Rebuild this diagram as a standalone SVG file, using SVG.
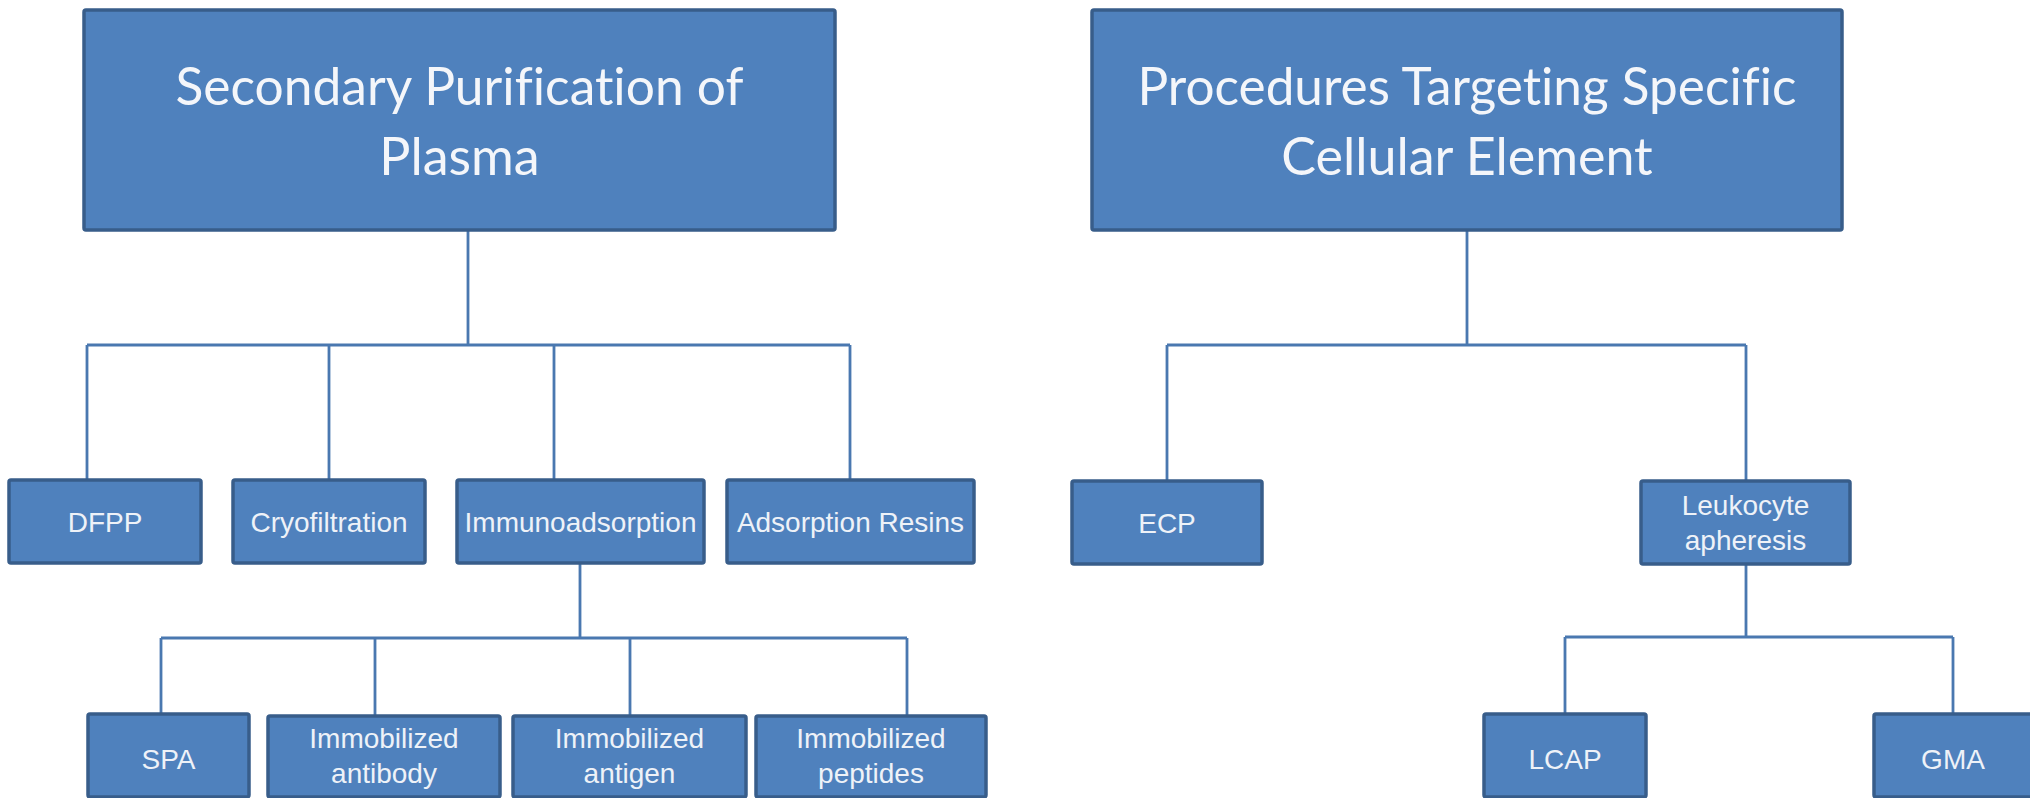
<svg xmlns="http://www.w3.org/2000/svg" width="2030" height="798" viewBox="0 0 2030 798">
<style>
.box{fill:#4f81bd;stroke:#385d8a;stroke-width:3.5}
.title{font-family:Lato,"Open Sans",sans-serif;font-size:52px;fill:#f4f6fa;text-anchor:middle;font-variant-ligatures:none}
.lbl{font-family:"Liberation Sans",Arial,sans-serif;font-size:28px;fill:#eef2f8;text-anchor:middle}
.conn{stroke:#4a78b0;stroke-width:2.8;fill:none}
</style>
<rect width="2030" height="798" fill="#ffffff"/>
<g id="connectors" class="conn">
<path d="M468 230V345M87 345H850M87 345V480M329 345V480M554 345V480M850 345V480"/>
<path d="M580 563V638M161 638H907M161 638V714M375 638V716M630 638V716M907 638V716"/>
<path d="M1467 230V345M1167 345H1746M1167 345V481M1746 345V481"/>
<path d="M1746 564V637M1565 637H1953M1565 637V714M1953 637V714"/>
</g>
<g id="n-secondary">
<rect class="box" x="84" y="10" width="751" height="220" rx="2"/>
<text class="title" x="459.5" y="105" textLength="568" lengthAdjust="spacingAndGlyphs">Secondary Purification of</text>
<text class="title" x="459.5" y="175">Plasma</text>
</g>
<g id="n-procedures">
<rect class="box" x="1092" y="10" width="750" height="220" rx="2"/>
<text class="title" x="1467" y="105" textLength="659" lengthAdjust="spacingAndGlyphs">Procedures Targeting Specific</text>
<text class="title" x="1467" y="175">Cellular  Element</text>
</g>
<g id="n-dfpp">
<rect class="box" x="9" y="480" width="192" height="83" rx="2"/>
<text class="lbl" x="105" y="532">DFPP</text>
</g>
<g id="n-cryo">
<rect class="box" x="233" y="480" width="192" height="83" rx="2"/>
<text class="lbl" x="329" y="532">Cryofiltration</text>
</g>
<g id="n-immuno">
<rect class="box" x="457" y="480" width="247" height="83" rx="2"/>
<text class="lbl" x="580.5" y="532">Immunoadsorption</text>
</g>
<g id="n-resins">
<rect class="box" x="727" y="480" width="247" height="83" rx="2"/>
<text class="lbl" x="850.5" y="532">Adsorption Resins</text>
</g>
<g id="n-spa">
<rect class="box" x="88" y="714" width="161" height="83" rx="2"/>
<text class="lbl" x="168.5" y="769">SPA</text>
</g>
<g id="n-antibody">
<rect class="box" x="268" y="716" width="232" height="81" rx="2"/>
<text class="lbl" x="384" y="748">Immobilized</text>
<text class="lbl" x="384" y="783">antibody</text>
</g>
<g id="n-antigen">
<rect class="box" x="513" y="716" width="233" height="81" rx="2"/>
<text class="lbl" x="629.5" y="748">Immobilized</text>
<text class="lbl" x="629.5" y="783">antigen</text>
</g>
<g id="n-peptides">
<rect class="box" x="756" y="716" width="230" height="81" rx="2"/>
<text class="lbl" x="871" y="748">Immobilized</text>
<text class="lbl" x="871" y="783">peptides</text>
</g>
<g id="n-ecp">
<rect class="box" x="1072" y="481" width="190" height="83" rx="2"/>
<text class="lbl" x="1167" y="533">ECP</text>
</g>
<g id="n-leuko">
<rect class="box" x="1641" y="481" width="209" height="83" rx="2"/>
<text class="lbl" x="1745.5" y="515">Leukocyte</text>
<text class="lbl" x="1745.5" y="550">apheresis</text>
</g>
<g id="n-lcap">
<rect class="box" x="1484" y="714" width="162" height="83" rx="2"/>
<text class="lbl" x="1565" y="769">LCAP</text>
</g>
<g id="n-gma">
<rect class="box" x="1874" y="714" width="162" height="83" rx="2"/>
<text class="lbl" x="1953" y="769">GMA</text>
</g>
</svg>
